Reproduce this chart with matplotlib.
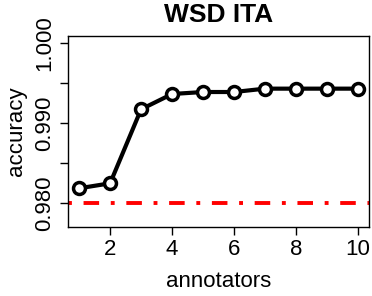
import numpy as np
import matplotlib
matplotlib.use("Agg")
import matplotlib.pyplot as plt

plt.rcParams['font.family'] = ['Liberation Sans', 'DejaVu Sans']

# data
annotators = [1, 2, 3, 4, 5, 6, 7, 8, 9, 10]
accuracy = [0.98188, 0.98250, 0.99175, 0.99366, 0.99391, 0.99391, 0.99433, 0.99433, 0.99433, 0.99433]
baseline = 0.980
yticks = [0.980, 0.985, 0.990, 0.995, 1.000]
ytick_labels = ['0.980', '', '0.990', '', '1.000']
xticks = [2, 4, 6, 8, 10]

fig = plt.figure(figsize=(3.72, 2.96), dpi=100)
ax = fig.add_axes([68/372, 1 - 227/296, (369 - 68)/372, (227 - 36)/296])

ax.plot(annotators, accuracy, color='black', lw=3.0, marker='o', ms=8.6,
        mfc='white', mec='black', mew=2.5, zorder=3)
ax.axhline(baseline, color='#ff0000', lw=2.8, linestyle=(0, (1.0, 3.0, 4.0, 3.0)),
           zorder=2)

ax.set_xlim(0.64, 10.36)
ax.set_ylim(0.97704, 1.00091)

ax.set_xticks(xticks)
ax.set_xticklabels([str(v) for v in xticks])
ax.set_yticks(yticks)
ax.set_yticklabels(ytick_labels, rotation=90, va='center')

ax.tick_params(axis='both', direction='out', length=5.5, width=1, labelsize=16)
ax.tick_params(axis='x', pad=3)
ax.tick_params(axis='y', pad=4)
for s in ax.spines.values():
    s.set_linewidth(1)

ax.set_xlabel('annotators', fontsize=16, labelpad=8)
ax.set_ylabel('accuracy', fontsize=16, labelpad=5)
ax.set_title('WSD ITA', fontsize=19, fontweight='bold', pad=10)

fig.savefig('out.png', dpi=100)
